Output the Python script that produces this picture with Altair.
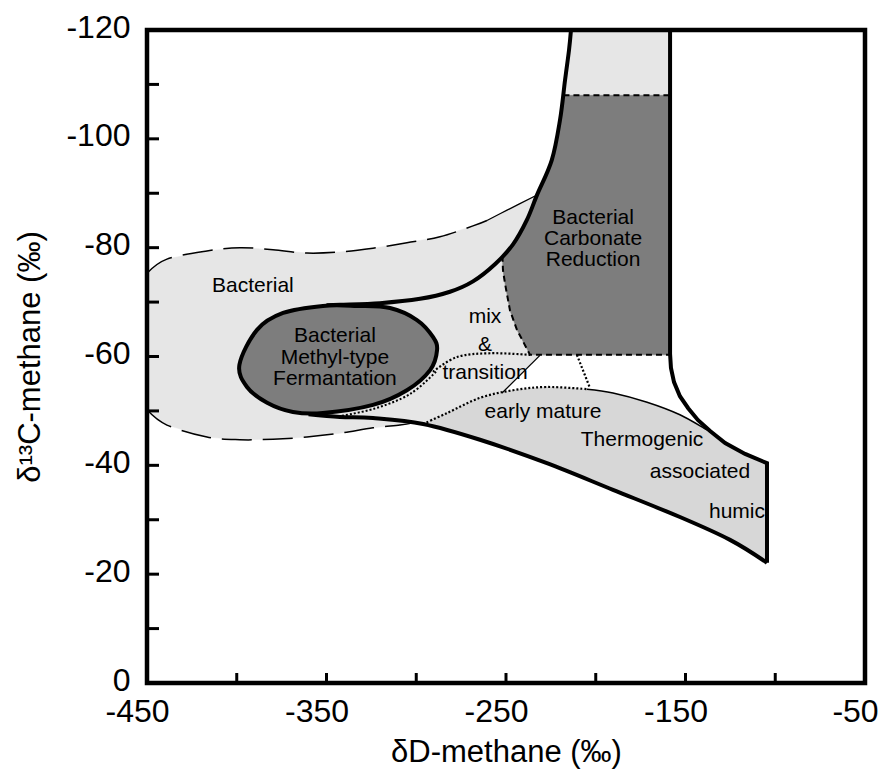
import altair as alt
import pandas as pd

FONT = "Liberation Sans"

# ---- axes ----
X_LABEL_VALUES = [-450, -350, -250, -150, -50]
X_TICK_VALUES = [-400, -350, -300, -250, -200, -150, -100]
Y_LABEL_VALUES = [-120, -100, -80, -60, -40, -20, 0]
Y_TICK_VALUES = [-110, -100, -90, -80, -70, -60, -50, -40, -30, -20, -10]

# ---- Bacterial envelope (dashed) ----
BACT_TOP_D = [-450, -438.9, -416.6, -398.2, -379.8, -360.9, -342.5, -324.1, -305.2, -286.8, -268.4, -260.6]
BACT_TOP_C = [-75.3, -77.9, -79.4, -80.0, -79.6, -79.0, -79.2, -79.9, -80.9, -82.0, -84.0, -85.0]
BACT_TOP_END_D = [-260.6, -249.4, -233.8]
BACT_TOP_END_C = [-85.0, -86.9, -89.5]
BACT_BOT_D = [-450, -438.9, -416.6, -398.2, -379.8, -360.9, -342.5, -324.1, -309.1, -301.8]
BACT_BOT_C = [-50.2, -47.4, -45.2, -44.7, -44.8, -45.2, -45.9, -46.9, -47.4, -47.8]

# ---- thick curve from methyl-type field up to the top ----
CURVE_D = [-350.0, -342.5, -320.2, -297.9, -281.2, -268.4, -256.0, -246.1, -238.5, -232.7, -224.5, -219.9, -217.1, -214.9, -213.8]
CURVE_C = [-69.4, -69.5, -69.8, -70.6, -71.9, -73.8, -77.0, -80.6, -85.0, -89.7, -96.1, -103.5, -110.8, -116.3, -120.0]

# ---- thick right boundary ----
RIGHT_D = [-158.6, -158.6, -158.1, -156.4, -153.1, -148.5, -143.0, -136.3, -127.9, -116.8, -104.6, -104.6]
RIGHT_C = [-120.0, -60.5, -57.9, -55.3, -52.7, -50.5, -48.3, -46.3, -44.1, -42.1, -40.4, -22.1]

# ---- thick lower boundary ----
LOW_D = [-360.0, -342.5, -324.1, -296.2, -264.5, -227.2, -190.4, -153.1, -125.2, -104.6]
LOW_C = [-49.4, -48.9, -48.7, -47.6, -44.7, -40.4, -35.5, -30.5, -26.3, -22.1]

# ---- thermogenic upper boundary ----
THERMO_DOT_D = [-296.2, -282.9, -264.5, -246.1, -227.2, -204.9]
THERMO_DOT_C = [-47.6, -49.6, -52.4, -53.8, -54.4, -54.0]
THERMO_TOP_D = [-204.9, -190.4, -171.4, -153.1, -138.0, -134.0]
THERMO_TOP_C = [-54.0, -53.3, -51.6, -49.3, -46.5, -45.8]
THERMO_RIGHT_D = [-127.9, -116.8, -104.6, -104.6]
THERMO_RIGHT_C = [-44.1, -42.1, -40.4, -22.1]

# ---- bacterial carbonate reduction field ----
CARB_D = [-218.0, -158.6, -158.6, -236.6, -243.9, -247.8, -250.6, -251.7, -252.0, -246.1, -238.5, -232.7, -224.5, -219.9, -218.0]
CARB_C = [-108.0, -108.0, -60.3, -60.3, -64.9, -68.5, -73.5, -75.9, -78.5, -80.6, -85.0, -89.7, -96.1, -103.5, -108.0]
CARB_DASH_D = [-252.0, -251.7, -250.6, -247.8, -243.9, -236.6, -158.6]
CARB_DASH_C = [-78.5, -75.9, -73.5, -68.5, -64.9, -60.3, -60.3]
CARB_TOPDASH_D = [-218.0, -158.6]
CARB_TOPDASH_C = [-108.0, -108.0]

# ---- methyl-type fermentation ellipse ----
ELL_D = [-398.5, -388.7, -374.2, -352.0, -333.0, -314.6, -299.6, -290.7, -288.4, -292.3, -305.2, -324.1, -352.0, -368.7, -383.1, -394.3]
ELL_C = [-58.5, -64.9, -68.0, -69.3, -69.3, -68.9, -66.7, -63.6, -61.2, -57.5, -53.8, -51.1, -49.6, -49.8, -51.5, -54.4]
ELL_DOT_D = [-289.0, -303.5, -323.5, -345.0]
ELL_DOT_C = [-57.2, -53.1, -50.4, -48.9]

# ---- mix & transition lines ----
MIX_D = [-290.7, -277.3, -258.9, -236.6]
MIX_C = [-57.2, -59.9, -60.6, -60.3]
SMALLDOT_D = [-210.5, -203.2]
SMALLDOT_C = [-60.3, -54.2]
DIAG_D = [-231.1, -252.2]
DIAG_C = [-60.2, -53.3]

# ---- labels ----
LABEL_TEXT = ["Bacterial", "Bacterial", "Methyl-type", "Fermantation", "mix", "&", "transition",
              "Bacterial", "Carbonate", "Reduction", "early mature", "Thermogenic", "associated", "humic"]
LABEL_D = [-391.0, -345.3, -345.3, -345.3, -261.7, -261.7, -261.7, -201.5, -201.5, -201.5, -229.4, -174.2, -141.9, -121.3]
LABEL_C = [-73.0, -63.8, -59.8, -55.9, -67.3, -62.1, -57.0, -85.5, -81.6, -77.7, -49.8, -44.7, -38.8, -31.4]

W, H = 718, 653
xs = alt.Scale(domain=[-450, -50], nice=False, zero=False)
ys = alt.Scale(domain=[-120, 0], nice=False, zero=False, reverse=True)

x_axis = alt.Axis(values=X_LABEL_VALUES, title="δD-methane (‰)", ticks=False, domain=False, grid=False,
                  labelExpr="'' + datum.value",
                  labelFontSize=32, labelFont=FONT, labelColor="black", labelPadding=13, labelOffset=-10,
                  labelFlush=False, labelOverlap=False,
                  titleFontSize=31, titleFont=FONT, titleFontWeight="normal", titleColor="black", titlePadding=10)
y_axis = alt.Axis(values=Y_LABEL_VALUES, title="δ¹³C-methane (‰)", ticks=False, domain=False, grid=False,
                  labelExpr="'' + datum.value",
                  labelFontSize=32, labelFont=FONT, labelColor="black", labelPadding=17, labelOffset=-3,
                  labelFlush=False, labelOverlap=False,
                  titleFontSize=31, titleFont=FONT, titleFontWeight="normal", titleColor="black", titlePadding=19)


def table(ds, cs):
    return pd.DataFrame({"d": ds, "c": cs, "o": list(range(len(ds)))})


def shape(ds, cs, **mark):
    return alt.Chart(table(ds, cs)).mark_line(**mark).encode(
        x=alt.X("d:Q", scale=xs, axis=x_axis),
        y=alt.Y("c:Q", scale=ys, axis=y_axis),
        order=alt.Order("o:Q"),
    )


# light bacterial polygon
light_d = BACT_TOP_D + BACT_TOP_END_D[1:] + CURVE_D[10:] + [-158.6, -158.6] + DIAG_D + THERMO_DOT_D[:3][::-1] + BACT_BOT_D[::-1]
light_c = BACT_TOP_C + BACT_TOP_END_C[1:] + CURVE_C[10:] + [-120.0, -60.3] + DIAG_C + THERMO_DOT_C[:3][::-1] + BACT_BOT_C[::-1]
light = shape(light_d, light_c, fill="#e6e6e6", stroke="#e6e6e6", strokeWidth=0.5)

thermo_d = THERMO_DOT_D + THERMO_TOP_D[1:] + THERMO_RIGHT_D + LOW_D[::-1][1:]
thermo_c = THERMO_DOT_C + THERMO_TOP_C[1:] + THERMO_RIGHT_C + LOW_C[::-1][1:]
thermo = shape(thermo_d, thermo_c, fill="#d7d7d7", stroke="#d7d7d7", strokeWidth=0.5)

carb = shape(CARB_D, CARB_C, fill="#7d7d7d", stroke="#7d7d7d", strokeWidth=0.5)

ell_fill = shape(ELL_D, ELL_C, fill="#7d7d7d", stroke="black", strokeWidth=4, interpolate="cardinal-closed")

layers = [
    light, thermo, carb,
    shape(BACT_TOP_D, BACT_TOP_C, color="black", strokeWidth=1.5, strokeDash=[30, 11], interpolate="cardinal"),
    shape(BACT_TOP_END_D, BACT_TOP_END_C, color="black", strokeWidth=1.3, interpolate="cardinal"),
    shape(BACT_BOT_D, BACT_BOT_C, color="black", strokeWidth=1.5, strokeDash=[30, 11], interpolate="cardinal"),
    shape(CARB_DASH_D, CARB_DASH_C, color="black", strokeWidth=2, strokeDash=[6, 4], interpolate="linear"),
    shape(CARB_TOPDASH_D, CARB_TOPDASH_C, color="black", strokeWidth=2, strokeDash=[6, 4]),
    shape(MIX_D, MIX_C, color="black", strokeWidth=2.2, strokeDash=[2, 2], interpolate="cardinal"),
    shape(ELL_DOT_D, ELL_DOT_C, color="black", strokeWidth=2, strokeDash=[2, 2], interpolate="cardinal"),
    shape(SMALLDOT_D, SMALLDOT_C, color="black", strokeWidth=2.2, strokeDash=[2, 2]),
    shape(DIAG_D, DIAG_C, color="black", strokeWidth=1.3),
    shape(THERMO_DOT_D, THERMO_DOT_C, color="black", strokeWidth=2.2, strokeDash=[2, 2], interpolate="cardinal"),
    shape(THERMO_TOP_D, THERMO_TOP_C, color="black", strokeWidth=1.5, interpolate="cardinal"),
    shape(CURVE_D, CURVE_C, color="black", strokeWidth=4, interpolate="cardinal"),
    shape(RIGHT_D, RIGHT_C, color="black", strokeWidth=4, interpolate="linear"),
    shape(LOW_D, LOW_C, color="black", strokeWidth=4, interpolate="cardinal"),
    ell_fill,
]

labels = alt.Chart(pd.DataFrame({"t": LABEL_TEXT, "d": LABEL_D, "c": LABEL_C})).mark_text(
    font=FONT, fontSize=21, color="black", align="center", baseline="middle"
).encode(
    x=alt.X("d:Q", scale=xs, axis=x_axis),
    y=alt.Y("c:Q", scale=ys, axis=y_axis),
    text="t:N",
)

xticks = alt.Chart(pd.DataFrame({"d": X_TICK_VALUES})).mark_rule(color="black", strokeWidth=3).encode(
    x=alt.X("d:Q", scale=xs, axis=x_axis), y=alt.value(H), y2=alt.value(H - 10)
)
yticks = alt.Chart(pd.DataFrame({"c": Y_TICK_VALUES})).mark_rule(color="black", strokeWidth=3).encode(
    y=alt.Y("c:Q", scale=ys, axis=y_axis), x=alt.value(0), x2=alt.value(12)
)
frame = alt.Chart(pd.DataFrame({"k": [0]})).mark_rect(fillOpacity=0, stroke="black", strokeWidth=4.5).encode(
    x=alt.value(0), x2=alt.value(W), y=alt.value(0), y2=alt.value(H)
)

chart = alt.layer(*layers, labels, xticks, yticks, frame).properties(
    width=W, height=H,
    padding={"left": 147, "top": 30, "right": 21, "bottom": 97},
    autosize=alt.AutoSizeParams(type="none"),
    background="white",
).configure_view(strokeWidth=0)

chart.save("out.html", embed_options={"renderer": "svg", "actions": False})
